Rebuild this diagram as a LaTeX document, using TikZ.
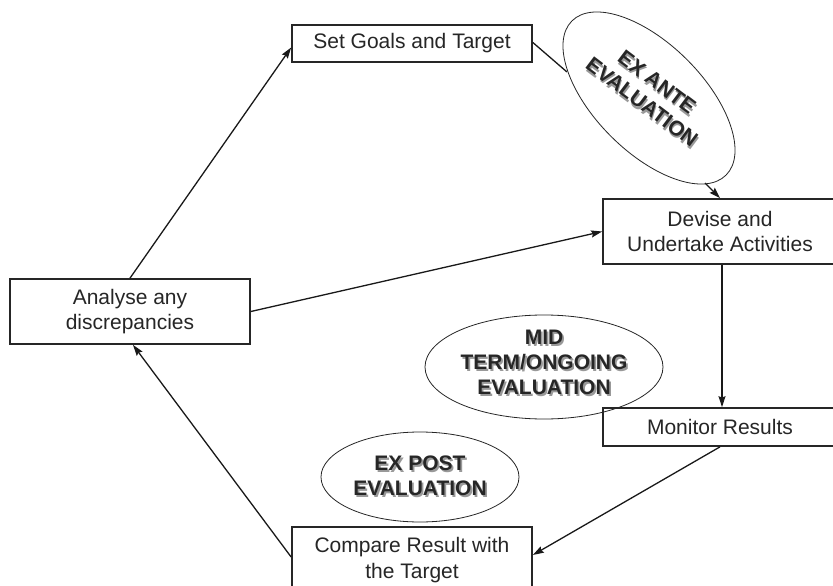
\documentclass[tikz,border=0pt]{standalone}
\usepackage{fontspec}
\setmainfont{Liberation Sans}
\usetikzlibrary{shapes.geometric,arrows.meta,calc}
\newcommand\shtxt[1]{\makebox[0pt][l]{\hspace{1.8pt}\raisebox{-1.8pt}{\textcolor{black!40}{#1}}}#1}
\begin{document}
\begin{tikzpicture}[x=1pt,y=-1pt,
  box/.style={draw=black!85, line width=1.7pt, rectangle, inner sep=0pt, align=center,
    font=\fontsize{21}{25.5}\selectfont, text=black!85},
  evalell/.style={draw=black!85, line width=0.8pt, ellipse, inner sep=0pt},
  evaltext/.style={align=center, inner sep=0pt, font=\fontsize{21}{25}\selectfont\bfseries, text=black!85},
  conn/.style={draw=black!90, line width=1.3pt},
  arr/.style={conn, -{Stealth[length=11pt,width=7pt,inset=1.5pt]}}
]
\clip (0,0) rectangle (833,586);
\fill[white] (0,0) rectangle (833,586);

% boxes
\node[box, minimum width=240pt, minimum height=37pt] (setgoals) at (412,43.5) {Set Goals and Target};
\node[box, minimum width=234pt, minimum height=65pt] (devise) at (720,231.5) {Devise and\\Undertake Activities};
\node[box, minimum width=234pt, minimum height=38pt] (monitor) at (720,427) {Monitor Results};
\node[box, minimum width=240pt, minimum height=66pt] (compare) at (412,560) {Compare Result with\\the Target};
\node[box, minimum width=240pt, minimum height=65pt] (analyse) at (130,311.5) {Analyse any\\discrepancies};

% ellipses
\node[evalell, minimum width=218pt, minimum height=108pt, rotate=-45] (exante) at (649,98) {};
\node[evaltext, rotate=-37] (exantet) at (649,93) {\shtxt{EX ANTE}\\\shtxt{EVALUATION}};

\node[evalell, minimum width=238pt, minimum height=104pt] (mid) at (544,367) {};
\node[evaltext] (midt) at (544,363) {\shtxt{MID}\\\shtxt{TERM/ONGOING}\\\shtxt{EVALUATION}};

\node[evalell, minimum width=198pt, minimum height=90pt] (expost) at (420,477) {};
\node[evaltext] (expostt) at (420,477) {\shtxt{EX POST}\\\shtxt{EVALUATION}};

% connector end points on the rotated ellipse
\coordinate (exin) at (567,72);
\coordinate (exout) at (705,183);

% connectors
\draw[arr] (analyse.north) -- ($(setgoals.west)+(0,4)$);
\draw[arr] (analyse.east) -- (devise.west);
\draw[conn] ($(setgoals.east)+(0,-1)$) -- (exin);
\draw[arr] (exout) -- (devise.north);
\draw[arr] ($(devise.south)+(2,0)$) -- ($(monitor.north)+(2,0)$);
\draw[arr] (monitor.south) -- ($(compare.east)+(0,-5)$);
\draw[arr] ($(compare.west)+(0,-3)$) -- ($(analyse.south)+(3,0)$);
\end{tikzpicture}
\end{document}
